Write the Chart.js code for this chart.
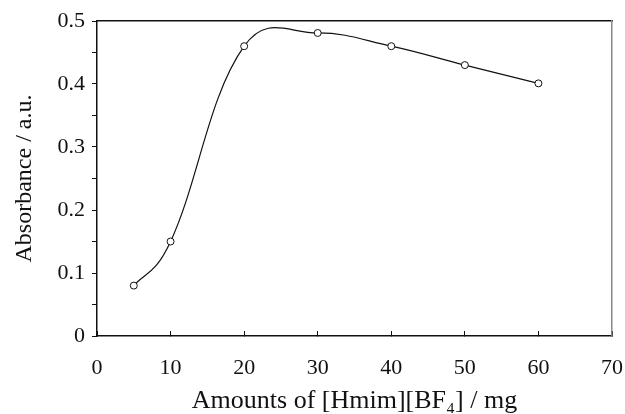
<!DOCTYPE html>
<html>
<head>
<meta charset="utf-8">
<script src="https://cdn.jsdelivr.net/npm/chart.js@4/dist/chart.umd.min.js"></script>
<style>
  html, body { margin: 0; padding: 0; background: #fff; }
  #wrap { width: 625px; height: 414px; }
</style>
</head>
<body>
<div id="wrap"><canvas id="grafico"></canvas></div>
<script>
// Dados
const quantidades = [5, 10, 20, 30, 40, 50, 60];
const absorbancias = [0.08, 0.15, 0.46, 0.481, 0.46, 0.43, 0.401];
const ticksX = [0, 10, 20, 30, 40, 50, 60, 70];
const ticksY = [0, 0.1, 0.2, 0.3, 0.4, 0.5];

const fonte = 'Liberation Serif, Times New Roman, serif';
const tensao = 0.4;

const pontos = quantidades.map((q, i) => ({ x: q, y: absorbancias[i] }));

// Ajusta os pontos de controle da curva (metade ponderada pela distância, metade uniforme)
const suavizar = {
  id: 'suavizar',
  beforeDatasetsDraw(chart) {
    const meta = chart.getDatasetMeta(0);
    meta.dataset.updateControlPoints(chart.chartArea, 'x');
    const pts = meta.data;
    for (let i = 0; i < pts.length; i++) {
      const ant = pts[Math.max(i - 1, 0)];
      const cur = pts[i];
      const prox = pts[Math.min(i + 1, pts.length - 1)];
      const d01 = Math.hypot(cur.x - ant.x, cur.y - ant.y);
      const d12 = Math.hypot(prox.x - cur.x, prox.y - cur.y);
      const soma = (d01 + d12) || 1;
      const fa = tensao * (0.5 * d01 / soma + 0.25);
      const fb = tensao * (0.5 * d12 / soma + 0.25);
      cur.cp1x = cur.x - fa * (prox.x - ant.x);
      cur.cp1y = cur.y - fa * (prox.y - ant.y);
      cur.cp2x = cur.x + fb * (prox.x - ant.x);
      cur.cp2y = cur.y + fb * (prox.y - ant.y);
    }
  }
};

new Chart(document.getElementById('grafico'), {
  type: 'line',
  data: {
    datasets: [{
      data: pontos,
      borderColor: '#111',
      borderWidth: 1.2,
      tension: tensao,
      pointRadius: 3.5,
      pointBorderWidth: 1,
      pointBorderColor: '#111',
      pointBackgroundColor: '#fff'
    }]
  },
  plugins: [suavizar],
  options: {
    responsive: true,
    maintainAspectRatio: false,
    animation: false,
    layout: { padding: { top: 21, right: 13, left: 0, bottom: 0 } },
    plugins: { legend: { display: false }, tooltip: { enabled: false } },
    scales: {
      x: {
        type: 'linear',
        min: 0,
        max: 70,
        afterBuildTicks: s => { s.ticks = ticksX.map(v => ({ value: v })); },
        afterFit: s => { s.height = 78; s.paddingLeft = 0; s.paddingRight = 0; },
        border: { color: '#111', width: 1.5 },
        grid: { drawOnChartArea: false, tickLength: -5, color: '#111', lineWidth: 1 },
        ticks: { color: '#111', font: { family: fonte, size: 22 }, padding: 24, maxRotation: 0 },
        title: {
          display: true,
          text: 'Amounts of [Hmim][BF\u2084] / mg',
          color: '#111',
          font: { family: fonte, size: 26 },
          padding: { top: 0, bottom: -3 }
        }
      },
      y: {
        min: 0,
        max: 0.5,
        afterBuildTicks: s => {
          const t = [];
          for (let i = 0; i <= 10; i++) t.push({ value: i * 0.05 });
          s.ticks = t;
        },
        afterFit: s => { s.width = 97; },
        border: { color: '#111', width: 1.5 },
        grid: { drawOnChartArea: false, tickLength: 5, color: '#111', lineWidth: 1 },
        ticks: {
          color: '#111',
          font: { family: fonte, size: 22 },
          padding: 7,
          callback: v => {
            const r = Math.round(v * 100) / 100;
            return ticksY.some(t => Math.abs(t - r) < 1e-6) ? String(r) : '';
          }
        },
        title: {
          display: true,
          text: 'Absorbance / a.u.',
          color: '#111',
          font: { family: fonte, size: 24 },
          padding: { top: 10, bottom: 0 }
        }
      },
      xTopo: {
        type: 'linear',
        position: 'top',
        min: 0,
        max: 70,
        afterFit: s => { s.height = 0; },
        border: { color: '#111', width: 1.5 },
        grid: { display: false, drawTicks: false },
        ticks: { display: false }
      },
      yDireita: {
        position: 'right',
        min: 0,
        max: 0.5,
        afterFit: s => { s.width = 0; },
        border: { color: '#888', width: 1.5 },
        grid: { display: false, drawTicks: false },
        ticks: { display: false }
      }
    }
  }
});
</script>
</body>
</html>
